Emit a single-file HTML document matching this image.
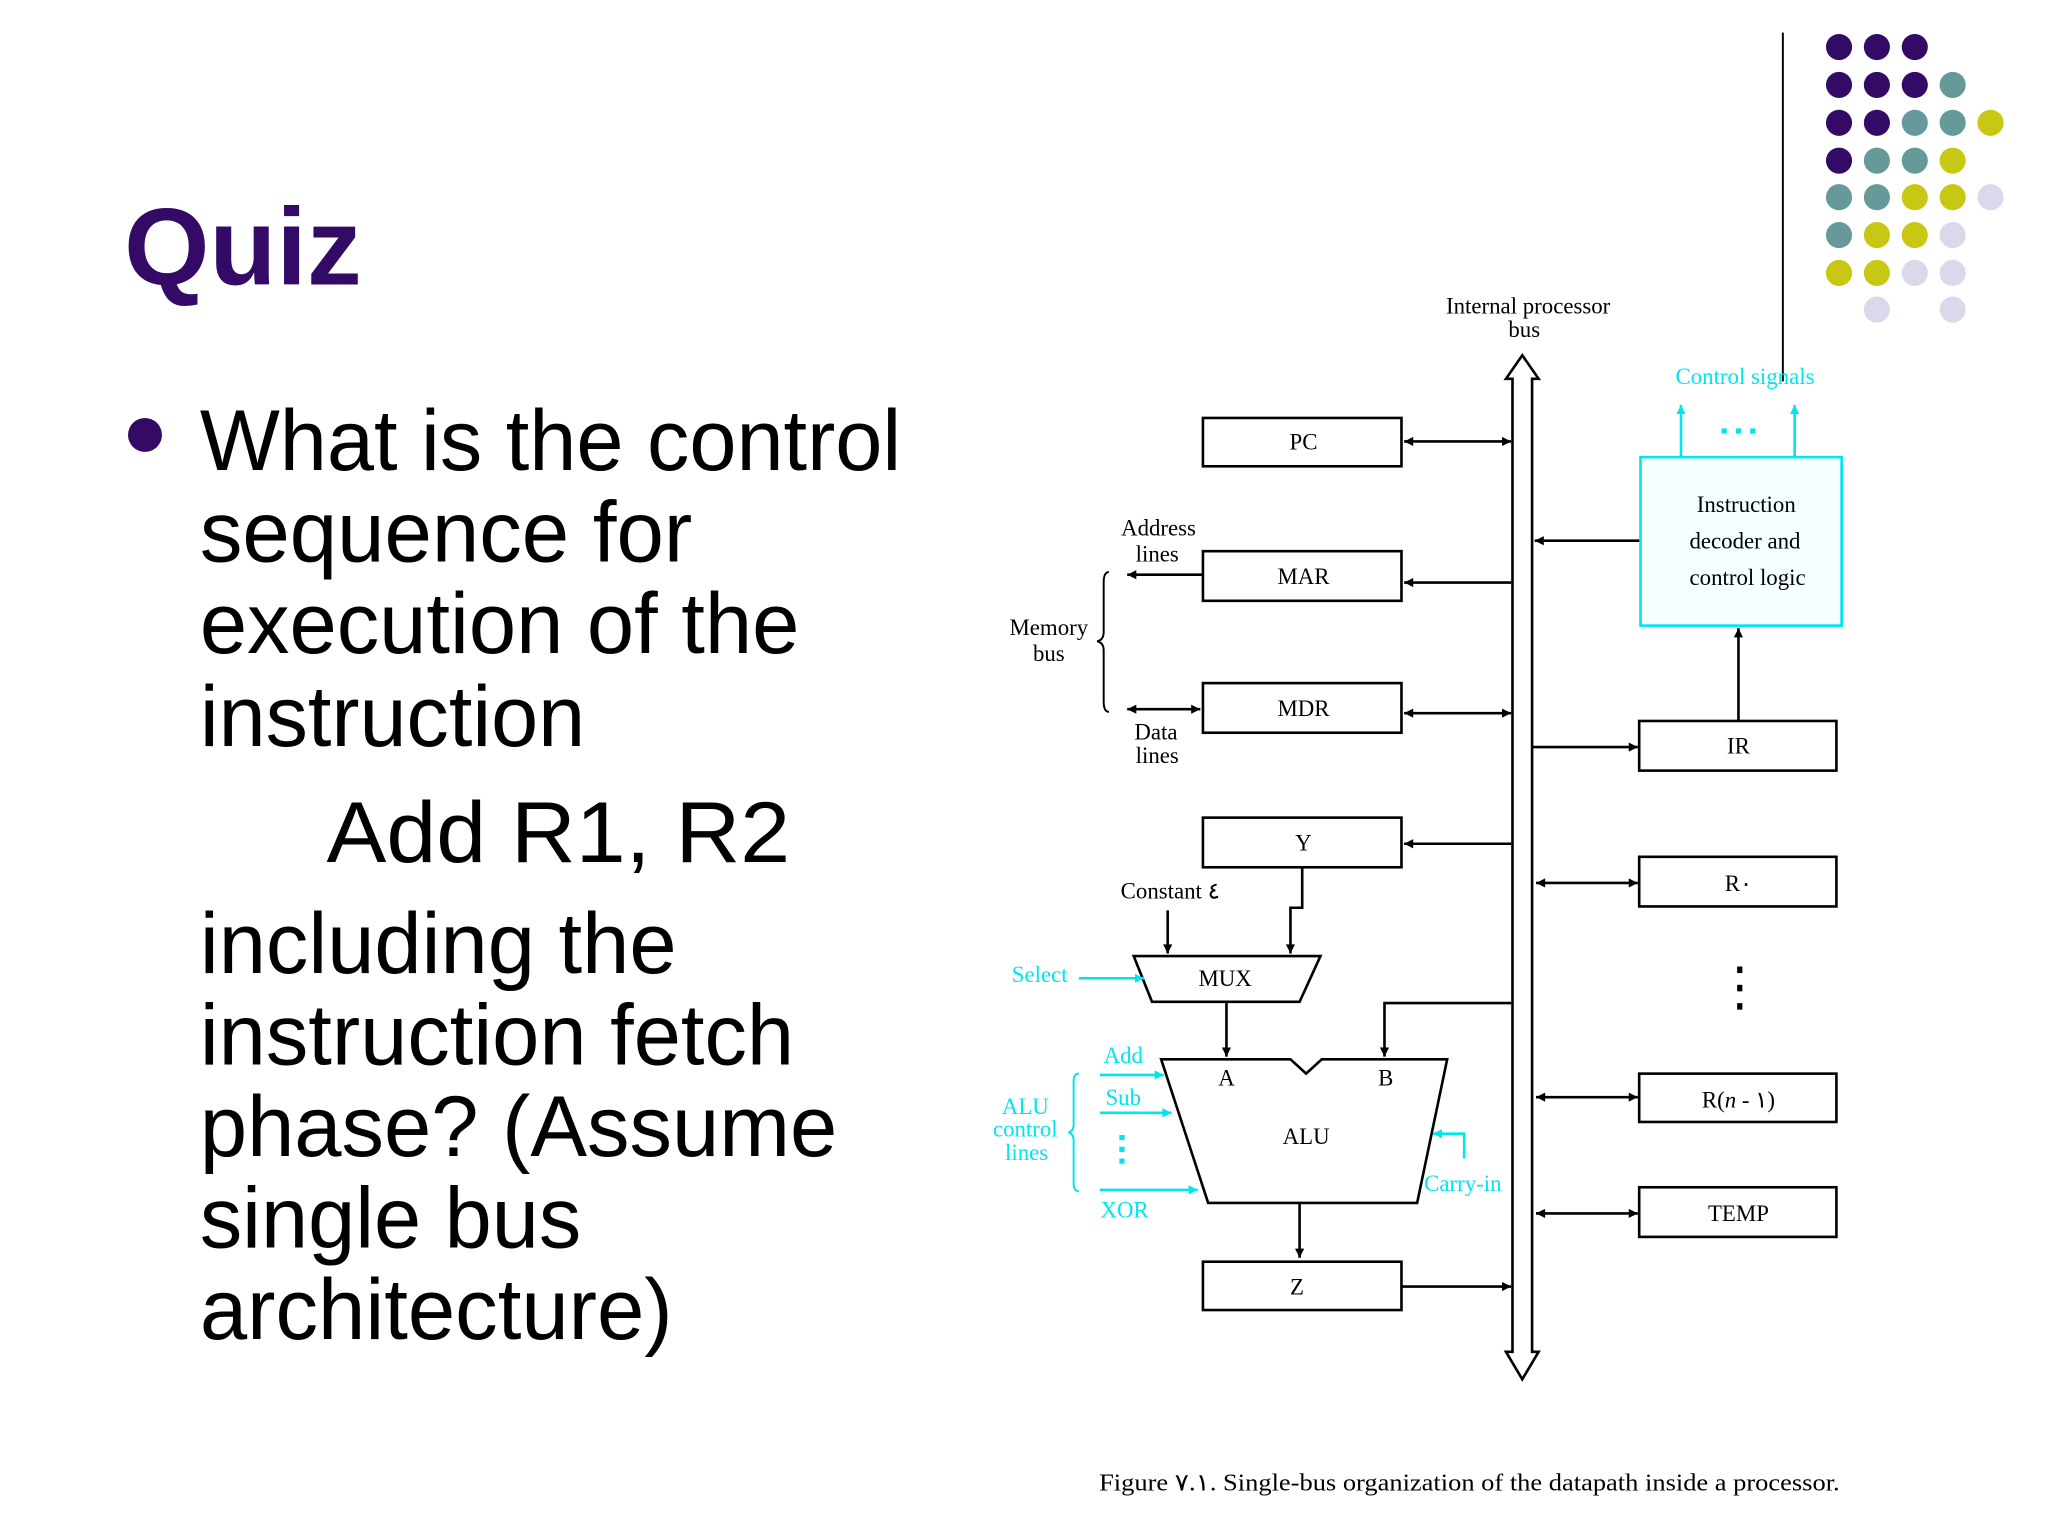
<!DOCTYPE html>
<html><head><meta charset="utf-8"><style>
html,body{margin:0;padding:0;background:#fff;}
svg{display:block;}
</style></head><body>
<svg width="2048" height="1536" viewBox="0 0 1568 1176" preserveAspectRatio="none" xmlns="http://www.w3.org/2000/svg">
<defs>
<marker id="ah" viewBox="0 0 10 10" refX="10" refY="5" markerWidth="9" markerHeight="7" orient="auto-start-reverse" markerUnits="userSpaceOnUse"><path d="M0,0 L10,5 L0,10 z" fill="#000"/></marker>
<marker id="ac" viewBox="0 0 10 10" refX="10" refY="5" markerWidth="9" markerHeight="7" orient="auto-start-reverse" markerUnits="userSpaceOnUse"><path d="M0,0 L10,5 L0,10 z" fill="#00e5ee"/></marker>
</defs>
<rect width="1568" height="1176" fill="#fff"/>
<g font-family="Liberation Sans, Arial, sans-serif">
<text x="95" y="218" font-size="84" font-weight="bold" fill="#330a66" textLength="182" lengthAdjust="spacingAndGlyphs">Quiz</text>
<circle cx="111" cy="333" r="13" fill="#330a66"/>
<g font-size="66" fill="#000">
<text x="153" y="360" textLength="537" lengthAdjust="spacingAndGlyphs">What is the control</text>
<text x="153" y="430" textLength="377" lengthAdjust="spacingAndGlyphs">sequence for</text>
<text x="153" y="500" textLength="459" lengthAdjust="spacingAndGlyphs">execution of the</text>
<text x="153" y="571" textLength="295" lengthAdjust="spacingAndGlyphs">instruction</text>
<text x="250" y="660" textLength="355" lengthAdjust="spacingAndGlyphs">Add  R1, R2</text>
<text x="153" y="745" textLength="365" lengthAdjust="spacingAndGlyphs">including the</text>
<text x="153" y="815" textLength="455" lengthAdjust="spacingAndGlyphs">instruction fetch</text>
<text x="153" y="885" textLength="488" lengthAdjust="spacingAndGlyphs">phase? (Assume</text>
<text x="153" y="955" textLength="292" lengthAdjust="spacingAndGlyphs">single bus</text>
<text x="153" y="1025" textLength="362" lengthAdjust="spacingAndGlyphs">architecture)</text>
</g>
</g>
<line x1="1365" y1="25" x2="1365" y2="292" stroke="#000" stroke-width="1.5"/>
<g>
<g fill="#330a66">
<circle cx="1408" cy="36" r="10"/><circle cx="1437" cy="36" r="10"/><circle cx="1466" cy="36" r="10"/>
<circle cx="1408" cy="65" r="10"/><circle cx="1437" cy="65" r="10"/><circle cx="1466" cy="65" r="10"/>
<circle cx="1408" cy="94" r="10"/><circle cx="1437" cy="94" r="10"/>
<circle cx="1408" cy="123" r="10"/>
</g>
<g fill="#669999">
<circle cx="1495" cy="65" r="10"/>
<circle cx="1466" cy="94" r="10"/><circle cx="1495" cy="94" r="10"/>
<circle cx="1437" cy="123" r="10"/><circle cx="1466" cy="123" r="10"/>
<circle cx="1408" cy="151" r="10"/><circle cx="1437" cy="151" r="10"/>
<circle cx="1408" cy="180" r="10"/>
</g>
<g fill="#c8c814">
<circle cx="1524" cy="94" r="10"/>
<circle cx="1495" cy="123" r="10"/>
<circle cx="1466" cy="151" r="10"/><circle cx="1495" cy="151" r="10"/>
<circle cx="1437" cy="180" r="10"/><circle cx="1466" cy="180" r="10"/>
<circle cx="1408" cy="209" r="10"/><circle cx="1437" cy="209" r="10"/>
</g>
<g fill="#dcd8ec">
<circle cx="1524" cy="151" r="10"/>
<circle cx="1495" cy="180" r="10"/>
<circle cx="1466" cy="209" r="10"/><circle cx="1495" cy="209" r="10"/>
<circle cx="1437" cy="237" r="10"/><circle cx="1495" cy="237" r="10"/>
</g>
</g>
<g font-family="Liberation Serif, Times New Roman, serif" font-size="17.5" fill="#000" text-anchor="middle">
<path d="M1158,1035 L1158,290 L1153,290 L1165.5,272 L1178,290 L1173,290 L1173,1035 L1178,1035 L1165.5,1056 L1153,1035 Z" fill="#fff" stroke="#000" stroke-width="2"/>
<text x="1170" y="240">Internal processor</text>
<text x="1167" y="258">bus</text>
<g stroke="#000" stroke-width="2" fill="#fff">
<rect x="921" y="320" width="152" height="37"/>
<rect x="921" y="422" width="152" height="38"/>
<rect x="921" y="523" width="152" height="38"/>
<rect x="921" y="626" width="152" height="38"/>
<rect x="921" y="966" width="152" height="37"/>
<rect x="1255" y="552" width="151" height="38"/>
<rect x="1255" y="656" width="151" height="38"/>
<rect x="1255" y="822" width="151" height="37"/>
<rect x="1255" y="909" width="151" height="38"/>
</g>
<text x="998" y="344">PC</text>
<text x="998" y="447">MAR</text>
<text x="998" y="548">MDR</text>
<text x="998" y="651">Y</text>
<text x="993" y="991">Z</text>
<text x="1331" y="577">IR</text>
<text x="1331" y="682">R٠</text>
<text x="1331" y="848">R(<tspan font-style="italic">n</tspan> - ١)</text>
<text x="1331" y="935">TEMP</text>
<g stroke="#000" stroke-width="2" fill="none">
<line x1="1075" y1="338" x2="1157" y2="338" marker-start="url(#ah)" marker-end="url(#ah)"/>
<line x1="1157" y1="446" x2="1075" y2="446" marker-end="url(#ah)"/>
<line x1="921" y1="440" x2="863" y2="440" marker-end="url(#ah)"/>
<line x1="863" y1="543" x2="919" y2="543" marker-start="url(#ah)" marker-end="url(#ah)"/>
<line x1="1075" y1="546" x2="1157" y2="546" marker-start="url(#ah)" marker-end="url(#ah)"/>
<line x1="1157" y1="646" x2="1075" y2="646" marker-end="url(#ah)"/>
<line x1="894" y1="697" x2="894" y2="730" marker-end="url(#ah)"/>
<polyline points="997,664 997,695 988,695 988,730" marker-end="url(#ah)"/>
<line x1="939" y1="767" x2="939" y2="809" marker-end="url(#ah)"/>
<polyline points="1157,768 1060,768 1060,809" marker-end="url(#ah)"/>
<line x1="995" y1="921" x2="995" y2="963" marker-end="url(#ah)"/>
<line x1="1073" y1="985" x2="1157" y2="985" marker-end="url(#ah)"/>
<line x1="1256" y1="414" x2="1175" y2="414" marker-end="url(#ah)"/>
<line x1="1174" y1="572" x2="1254" y2="572" marker-end="url(#ah)"/>
<line x1="1331" y1="552" x2="1331" y2="481" marker-end="url(#ah)"/>
<line x1="1176" y1="676" x2="1254" y2="676" marker-start="url(#ah)" marker-end="url(#ah)"/>
<line x1="1176" y1="840" x2="1254" y2="840" marker-start="url(#ah)" marker-end="url(#ah)"/>
<line x1="1176" y1="929" x2="1254" y2="929" marker-start="url(#ah)" marker-end="url(#ah)"/>
<path d="M849,438 Q845,438 845,446 L845,484 Q845,490 840,491 Q845,492 845,498 L845,537 Q845,545 849,545" stroke-width="1.5"/>
</g>
<text x="887" y="410">Address</text>
<text x="886" y="430">lines</text>
<text x="803" y="486">Memory</text>
<text x="803" y="506">bus</text>
<text x="885" y="566">Data</text>
<text x="886" y="584">lines</text>
<text x="896" y="688">Constant ٤</text>
<polygon points="868,732 1011,732 995,767 882,767" fill="#fff" stroke="#000" stroke-width="2"/>
<text x="938" y="755">MUX</text>
<polygon points="889,811 988,811 1000,822 1012,811 1108,811 1085,921 925,921" fill="#fff" stroke="#000" stroke-width="2"/>
<text x="939" y="831">A</text>
<text x="1061" y="831">B</text>
<text x="1000" y="876">ALU</text>
<rect x="1256" y="350" width="154" height="129" fill="#f6ffff" stroke="#00e5ee" stroke-width="2"/>
<text x="1337" y="392">Instruction</text>
<text x="1336" y="420">decoder and</text>
<text x="1338" y="448">control logic</text>
<g fill="#00e5ee">
<text x="1336" y="294">Control signals</text>
<text x="796" y="752">Select</text>
<text x="860" y="814">Add</text>
<text x="860" y="846">Sub</text>
<text x="861" y="932">XOR</text>
<text x="785" y="853">ALU</text>
<text x="785" y="870">control</text>
<text x="786" y="888">lines</text>
<text x="1120" y="912">Carry-in</text>
<rect x="1318" y="328" width="4" height="4"/><rect x="1329" y="328" width="4" height="4"/><rect x="1340" y="328" width="4" height="4"/>
<rect x="857" y="869" width="4" height="4"/><rect x="857" y="878" width="4" height="4"/><rect x="857" y="887" width="4" height="4"/>
</g>
<g stroke="#00e5ee" stroke-width="2" fill="none">
<line x1="1287" y1="350" x2="1287" y2="310" marker-end="url(#ac)"/>
<line x1="1374" y1="350" x2="1374" y2="310" marker-end="url(#ac)"/>
<line x1="826" y1="749" x2="876" y2="749" marker-end="url(#ac)"/>
<line x1="842" y1="823" x2="891" y2="823" marker-end="url(#ac)"/>
<line x1="842" y1="852" x2="897" y2="852" marker-end="url(#ac)"/>
<line x1="842" y1="911" x2="917" y2="911" marker-end="url(#ac)"/>
<polyline points="1121,887 1121,868 1097,868" marker-end="url(#ac)"/>
<path d="M826,822 Q822,822 822,828 L822,861 Q822,866 818,867 Q822,868 822,873 L822,906 Q822,912 826,912" stroke-width="1.5"/>
</g>
<rect x="1330" y="740" width="4" height="5"/><rect x="1330" y="754" width="4" height="5"/><rect x="1330" y="768" width="4" height="5"/>
<text x="1125" y="1141" font-size="18.5" textLength="567" lengthAdjust="spacingAndGlyphs">Figure ٧.١.  Single-bus organization of the datapath inside a processor.</text>
</g>
</svg>
</body></html>
